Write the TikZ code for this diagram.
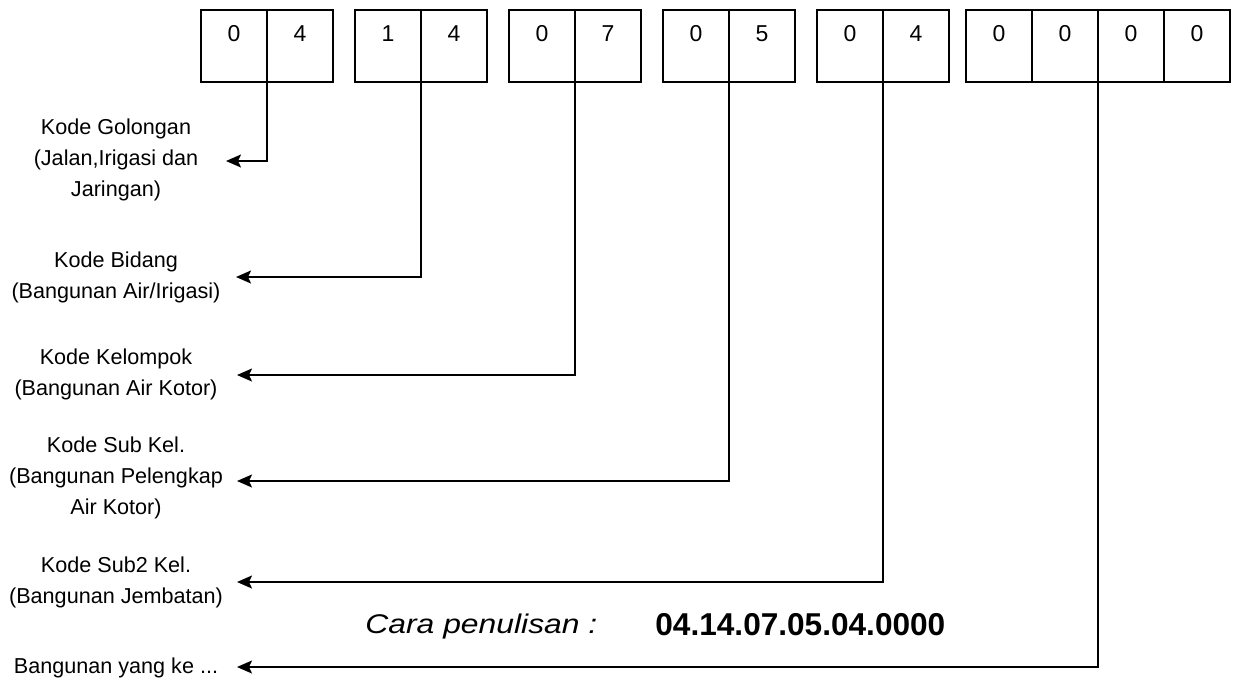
\documentclass[tikz,border=0pt]{standalone}
\usepackage{fontspec}
\setmainfont{Liberation Sans}
\newfontfamily\wideSans[FakeStretch=1.18]{Liberation Sans}
\usepackage{tikz}
\usetikzlibrary{arrows.meta,positioning}
\tikzset{
  codeCell/.style={draw, line width=0.9pt, minimum width=33pt, inner sep=0pt, outer sep=0pt, text height=15.6pt, text depth=20.4pt, font=\fontsize{11.5}{13}\selectfont},
  codeArrow/.style={-{Stealth[length=7.5pt,width=6.5pt,inset=1.5pt]}, line width=0.9pt},
  codeLabel/.style={font=\fontsize{10.8}{15.5}\selectfont, align=center, inner sep=0pt}
}

\begin{document}
\begin{tikzpicture}[x=0.5pt,y=-0.5pt]
  \useasboundingbox (0,0) rectangle (1233,682);
  % code boxes, two digits per group
  \foreach \g/\xa/\da/\db in {1/201/0/4,2/355/1/4,3/509/0/7,4/663/0/5,5/817/0/4}{
    \node[codeCell, anchor=north west] (g\g-a) at (\xa,10) {\da};
    \node[codeCell, right=0pt of g\g-a] (g\g-b) {\db};
  }
  % last group holds four digits
  \node[codeCell, anchor=north west] (g6-a) at (966,10) {0};
  \node[codeCell, right=0pt of g6-a] (g6-b) {0};
  \node[codeCell, right=0pt of g6-b] (g6-c) {0};
  \node[codeCell, right=0pt of g6-c] (g6-d) {0};

  % descriptions on the left
  \node[codeLabel] (golongan) at (116,160) {Kode Golongan\\(Jalan,Irigasi dan\\Jaringan)};
  \node[codeLabel] (bidang) at (116,277) {Kode Bidang\\(Bangunan Air/Irigasi)};
  \node[codeLabel] (kelompok) at (116,374) {Kode Kelompok\\(Bangunan Air Kotor)};
  \node[codeLabel] (subkel) at (116,478) {Kode Sub Kel.\\(Bangunan Pelengkap\\Air Kotor)};
  \node[codeLabel] (subsubkel) at (116,582) {Kode Sub2 Kel.\\(Bangunan Jembatan)};
  \node[codeLabel] (urutan) at (116,668) {Bangunan yang ke ...};

  % arrow tips next to the descriptions
  \coordinate (tip1) at (226,161);
  \coordinate (tip2) at (236,277);
  \coordinate (tip3) at (237,375);
  \coordinate (tip4) at (237,481);
  \coordinate (tip5) at (237,582);
  \coordinate (tip6) at (237,667);
  \foreach \c/\n in {g1-a/1,g2-a/2,g3-a/3,g4-a/4,g5-a/5,g6-b/6}
    \draw[codeArrow] (\c.south east) |- (tip\n);

  \node[anchor=base west, inner sep=0pt, font=\wideSans\itshape\fontsize{13.5}{16}\selectfont] (cara) at (365,633) {Cara penulisan :};
  \node[anchor=base west, inner sep=0pt, font=\bfseries\fontsize{15.8}{19}\selectfont] (kode) at (655,635) {04.14.07.05.04.0000};
\end{tikzpicture}
\end{document}
